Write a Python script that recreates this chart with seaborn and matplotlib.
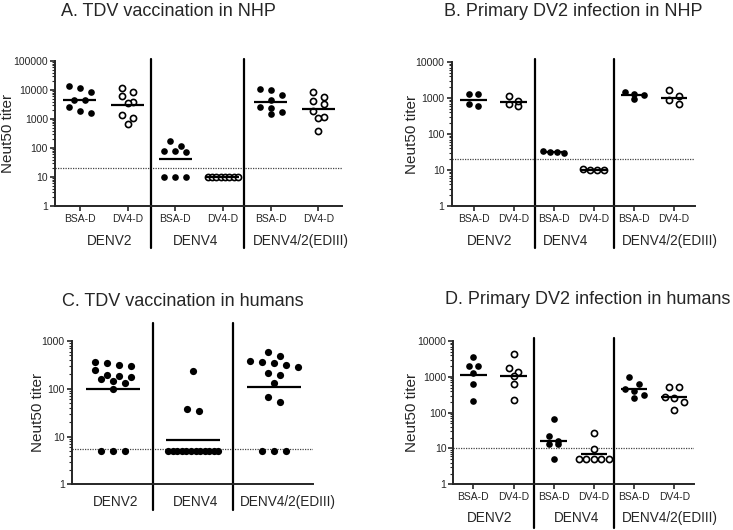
import numpy as np
import pandas as pd
import matplotlib
matplotlib.use("Agg")
import matplotlib.pyplot as plt
import matplotlib.ticker as mticker
import matplotlib.transforms as mtrans
import seaborn as sns

sns.set_style("ticks")
plt.rcParams["font.family"] = ["Liberation Sans", "DejaVu Sans"]

# ---- data (Neut50 titers) ----
sub_labels = ["BSA-D", "DV4-D"]
groups = ["DENV2", "DENV4", "DENV4/2(EDIII)"]

# A. TDV vaccination in NHP
a_denv2_bsa = [11400, 13700, 8770, 4520, 4520, 1650, 2530, 1940]
a_denv2_dv4 = [8770, 11400, 6210, 3960, 3470, 655, 1370, 1055]
a_denv4_bsa = [120, 174, 75, 81, 81, 10, 10, 10]
a_denv4_dv4 = [10, 10, 10, 10, 10, 10, 10, 10]
a_edIII_bsa = [6730, 10540, 9740, 2660, 4640, 1490, 2330, 1790]
a_edIII_dv4 = [8770, 5890, 4290, 3210, 1200, 1890, 1055, 386]

# B. Primary DV2 infection in NHP
b_denv2_bsa = [1290, 1290, 600, 680]
b_denv2_dv4 = [612, 826, 1137, 667]
b_denv4_bsa = [30, 34, 32, 32]
b_denv4_dv4 = [10, 11, 10, 10]
b_edIII_bsa = [1500, 918, 1264, 1186]
b_edIII_dv4 = [1113, 667, 1704, 861]

# C. TDV vaccination in humans
c_denv2 = [293, 197, 312, 179, 130, 372, 246, 160, 99, 145, 344, 188, 5, 5, 5]
c_denv4 = [230, 34, 38, 5, 5, 5, 5, 5, 5, 5, 5, 5, 5, 5, 5]
c_edIII = [597, 358, 281, 319, 485, 341, 376, 194, 217, 134, 68, 53, 5, 5, 5]

# D. Primary DV2 infection in humans
d_denv2_bsa = [3500, 2000, 2000, 1250, 617, 212]
d_denv2_dv4 = [4250, 1727, 1335, 1055, 631, 226]
d_denv4_bsa = [67, 16.5, 13, 22, 13, 5]
d_denv4_dv4 = [26.5, 9.5, 5, 5, 5, 5, 5]
d_edIII_bsa = [968, 458, 402, 631, 311, 251]
d_edIII_dv4 = [509, 509, 280, 262, 194, 119]

lod = {"A": 20, "B": 20, "C": 5.5, "D": 10}

W, H = 733, 530
fig = plt.figure(figsize=(W / 100, H / 100), dpi=100)


def px_axes(l, t, r, b):
    return fig.add_axes([l / W, 1 - b / H, (r - l) / W, (b - t) / H])


def spread(vals, step, maxw, h):
    # Prism-like scatter: points of similar height are put side by side
    logs = np.log10(vals)
    order = np.argsort(-logs, kind="stable")
    offs = np.zeros(len(vals))
    rows, cur = [], [order[0]]
    for i in order[1:]:
        if logs[cur[0]] - logs[i] <= h:
            cur.append(i)
        else:
            rows.append(cur)
            cur = [i]
    rows.append(cur)
    for row in rows:
        k = len(row)
        sp = step if k < 2 else min(step, maxw / (k - 1))
        for j, idx in enumerate(row):
            offs[idx] = (j - (k - 1) / 2) * sp
    return offs


def panel(ax, cols, filled, ylim, xlim, key, step_px, maxw_px, dot, line_w,
          dividers, div_span, tick_labels, group_x, group_y):
    ax.set_yscale("log")
    ax.set_xlim(*xlim)
    ax.set_ylim(*ylim)
    pos = ax.get_position()
    cat_px = pos.width * W / (xlim[1] - xlim[0])
    dec_px = pos.height * H / np.log10(ylim[1] / ylim[0])

    frames = []
    for i, (vals, f) in enumerate(zip(cols, filled)):
        offs = spread(vals, step_px / cat_px, maxw_px / cat_px, 7 / dec_px)
        frames.append(pd.DataFrame({"x": i + offs, "titer": vals, "filled": f}))
        gm = 10 ** np.mean(np.log10(vals))
        ax.hlines(gm, i - line_w / 2, i + line_w / 2, color="black", lw=1.6, zorder=4)
    df = pd.concat(frames, ignore_index=True)

    sns.scatterplot(data=df[df["filled"]], x="x", y="titer", color="black",
                    s=dot, linewidth=0, ax=ax, zorder=3, legend=False)
    if (~df["filled"]).any():
        sns.scatterplot(data=df[~df["filled"]], x="x", y="titer", color="white",
                        edgecolor="black", s=dot * 0.85, linewidth=1.2, ax=ax,
                        zorder=3, legend=False)

    ax.axhline(lod[key], color="#444444", lw=0.9, ls=(0, (1, 1)), zorder=1)
    for d in dividers:
        ax.axvline(d, ymin=div_span[0], ymax=div_span[1], color="black", lw=1.6,
                   clip_on=False)

    trans = mtrans.blended_transform_factory(ax.transData, ax.transAxes)
    for g, gx in zip(groups, group_x):
        ax.text(gx, group_y, g, transform=trans, ha="center", va="center", fontsize=9.8)

    if tick_labels:
        ax.set_xticks(range(len(cols)))
        ax.set_xticklabels(tick_labels, fontsize=7.5)
        ax.tick_params(axis="x", length=3.5, width=1.2, pad=2)
    else:
        ax.set_xticks([])

    ax.yaxis.set_major_locator(mticker.LogLocator(base=10, numticks=10))
    ax.yaxis.set_minor_locator(mticker.LogLocator(base=10, subs=np.arange(2, 10), numticks=10))
    ax.yaxis.set_major_formatter(mticker.FuncFormatter(lambda v, _: f"{v:g}"))
    ax.yaxis.set_minor_formatter(mticker.NullFormatter())
    ax.tick_params(axis="y", which="major", length=3.5, width=1.2, labelsize=7.5, pad=1.5)
    ax.tick_params(axis="y", which="minor", length=2, width=0.8)
    ax.set_xlabel("")
    ax.set_ylabel("")
    sns.despine(ax=ax)
    for s in ("left", "bottom"):
        ax.spines[s].set_linewidth(1.4)


ax_a = px_axes(55, 61, 341.7, 206)
panel(ax_a, [a_denv2_bsa, a_denv2_dv4, a_denv4_bsa, a_denv4_dv4, a_edIII_bsa, a_edIII_dv4],
      [True, False] * 3, (1, 1e5), (-0.52, 5.49), "A", 11, 30, 23, 0.69,
      [1.5, 3.45], (-0.29, 1.014), sub_labels * 3, [0.62, 2.43, 4.63], -0.241)

ax_b = px_axes(451.5, 62, 695, 206)
panel(ax_b, [b_denv2_bsa, b_denv2_dv4, b_denv4_bsa, b_denv4_dv4, b_edIII_bsa, b_edIII_dv4],
      [True, False] * 3, (1, 1e4), (-0.55, 5.52), "B", 9.5, 21, 23, 0.66,
      [1.52, 3.51], (-0.29, 1.02), sub_labels * 3, [0.41, 2.30, 4.90], -0.243)

ax_c = px_axes(71.7, 341, 313.3, 484.3)
panel(ax_c, [c_denv2, c_denv4, c_edIII], [True] * 3, (1, 1e3), (-0.51, 2.49), "C",
      12, 50, 27, 0.67, [0.5, 1.49], (-0.18, 1.126), None, [0.03, 1.03, 2.18], -0.124)

ax_d = px_axes(453.3, 341, 694.3, 484.3)
panel(ax_d, [d_denv2_bsa, d_denv2_dv4, d_denv4_bsa, d_denv4_dv4, d_edIII_bsa, d_edIII_dv4],
      [True, False] * 3, (1, 1e4), (-0.5, 5.5), "D", 9.5, 30, 23, 0.66,
      [1.5, 3.5], (-0.305, 1.02), sub_labels * 3, [0.40, 2.58, 4.90], -0.235)

# titles and y labels (placed in figure pixels)
titles = ["A. TDV vaccination in NHP", "B. Primary DV2 infection in NHP",
          "C. TDV vaccination in humans", "D. Primary DV2 infection in humans"]
for t, (tx, ty) in zip(titles, [(168.5, 12), (573, 12), (182.5, 302), (588, 300)]):
    fig.text(tx / W, 1 - ty / H, t, ha="center", va="center", fontsize=13)

for lx, ly in [(8, 133.5), (412, 134), (38, 412.6), (412, 412.6)]:
    fig.text(lx / W, 1 - ly / H, "Neut50 titer", rotation=90, ha="center",
             va="center", fontsize=11)

fig.savefig("out.png", dpi=100)
